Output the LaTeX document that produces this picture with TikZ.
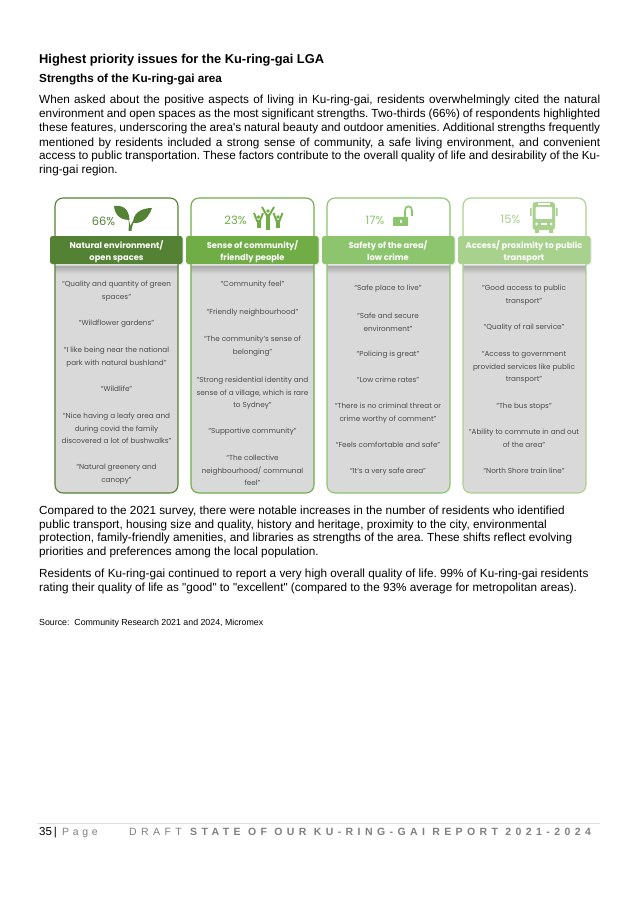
\documentclass[tikz,border=0pt]{standalone}
\usepackage{fontspec}
\setmainfont{Liberation Sans}
\newfontfamily\plainfont{Liberation Sans}
\newfontfamily\cardfont{Poppins}
\definecolor{cA}{HTML}{548235}
\definecolor{cB}{HTML}{70AD47}
\definecolor{cC}{HTML}{8CC56E}
\definecolor{cD}{HTML}{A9D18E}
\definecolor{bodygrey}{HTML}{D9D9D9}
\definecolor{quotegrey}{HTML}{4A4A4A}
\definecolor{footgrey}{HTML}{808080}
\newcounter{lno}
\tikzset{
  x=1pt,y=-1pt,
  heading/.style={anchor=base west,inner sep=0pt,font=\plainfont\fontsize{12.85}{15}\selectfont\bfseries},
  subhead/.style={anchor=base west,inner sep=0pt,font=\plainfont\fontsize{11.7}{14}\selectfont\bfseries},
  bodyline/.style={anchor=base west,inner sep=0pt,font=\plainfont\fontsize{11.75}{14}\selectfont},
  srcline/.style={anchor=base west,inner sep=0pt,font=\plainfont\fontsize{8.8}{10}\selectfont},
  quote/.style={anchor=base,inner sep=0pt,text=quotegrey,font=\cardfont\fontsize{7.25}{9}\selectfont},
  bandtext/.style={anchor=base,inner sep=0pt,text=white,font=\cardfont\fontsize{8.3}{10}\selectfont\bfseries},
  pct/.style={anchor=center,inner sep=0pt,font=\cardfont\fontsize{11.5}{13}\selectfont},
  cardline/.style={line width=1.1pt,rounded corners=8pt},
  foot/.style={anchor=base west,inner sep=0pt,text=black!50},
}
\newcommand{\jl}[2]{\stepcounter{lno}\node[bodyline] (b\thelno) at (39,#1) {\frenchspacing\makebox[561pt][s]{#2}};}
\newcommand{\bl}[2]{\stepcounter{lno}\node[bodyline] (b\thelno) at (39,#1) {\frenchspacing #2};}
\newcommand{\ql}[3]{\stepcounter{lno}\node[quote] (q\thelno) at (#1,#2+2.7) {#3};}
\newcommand{\cardbox}[3]{%
  \fill[white,rounded corners=8pt] (#1,198) rectangle (#1+123,240);
  \fill[bodygrey,rounded corners=8pt] (#1,250) rectangle (#1+123,493);
  \shade[top color=black!38,bottom color=bodygrey] (#1+.5,264) rectangle (#1+122.5,274);
  \fill[black!6,rounded corners=3pt] (#1-4,237) rectangle (#1+129,265.5);
  \draw[cardline,#2] (#1,240) -- (#1,198) -- (#1+123,198) -- (#1+123,240);
  \draw[cardline,#2] (#1,262) -- (#1,493) -- (#1+123,493) -- (#1+123,262);
  \fill[#2,rounded corners=2.5pt] (#1-5,236) rectangle (#1+127.5,264);
}
\begin{document}
\begin{tikzpicture}
\useasboundingbox[fill=white] (0,0) rectangle (637,901);
% headings
\node[heading] (title) at (39,64) {Highest priority issues for the Ku-ring-gai LGA};
\node[subhead] (sub) at (39,83) {Strengths of the Ku-ring-gai area};
% first paragraph
\jl{104}{When asked about the positive aspects of living in Ku-ring-gai, residents overwhelmingly cited the natural}
\jl{118}{environment and open spaces as the most significant strengths. Two-thirds (66\%) of respondents highlighted}
\jl{132}{these features, underscoring the area's natural beauty and outdoor amenities. Additional strengths frequently}
\jl{146.5}{mentioned by residents included a strong sense of community, a safe living environment, and convenient}
\jl{160}{access to public transportation. These factors contribute to the overall quality of life and desirability of the Ku-}
\bl{173.5}{ring-gai region.}
% cards
\cardbox{55}{cA}{}
\cardbox{191}{cB}{}
\cardbox{327}{cC}{}
\cardbox{463}{cD}{}
% percentages
\node[pct,text=cA] (p1) at (103.5,221) {66\%};
\node[pct,text=cB] (p2) at (235.5,220) {23\%};
\node[pct,text=cC] (p3) at (375,220) {17\%};
\node[pct,text=cD] (p4) at (510.5,219) {15\%};
% leaf icon
\fill[cA] (114,206) .. controls (122,205) and (129,208) .. (129.5,220) .. controls (124,220) and (115,218) .. (114,206) -- cycle;
\fill[cA] (152,208) .. controls (149,216) and (144,224) .. (133,223) .. controls (133,214) and (140,208) .. (152,208) -- cycle;
\fill[cA] (128.3,218) .. controls (129.5,222) and (130,224) .. (130.3,226) .. controls (131,224) and (132,222) .. (136,218) .. controls (133,223) and (131.5,227) .. (131.5,231) -- (128.5,231) .. controls (129,226) and (129,222) .. (128.3,218) -- cycle;
% people icon
\foreach \cx/\top/\bot/\hw in {258.5/213/228.5/4.5,268/207/230.5/6,278/213/228.5/4.5}{
  \fill[cB] (\cx,\top+4) circle (1.8);
  \fill[cB] (\cx-2,\top+7.5) rectangle (\cx+2,\bot);
  \draw[cB,line width=1.9pt] (\cx-1.2,\top+8.5) -- (\cx-\hw,\top) (\cx+1.2,\top+8.5) -- (\cx+\hw,\top);
}
% lock icon
\fill[cC,rounded corners=.6pt] (393,217) rectangle (408,226);
\fill[white] (400,220) rectangle (401.5,223.5);
\draw[cC,line width=1.7pt] (405,217) -- (405,210.5) .. controls (405,205) and (412,205) .. (412,210.5) -- (412,216);
% bus icon
\fill[cD,rounded corners=3pt] (532.5,202) rectangle (555,230);
\fill[white,rounded corners=1pt] (535.5,207) rectangle (552,219);
\fill[white] (538,203.5) rectangle (550,205);
\fill[white] (536.5,224) circle (1.5) (551,224) circle (1.5);
\fill[white] (541,223) rectangle (547,225);
\fill[cD] (535,229) rectangle (539,233) (549,229) rectangle (553,233);
\fill[cD] (530,208) rectangle (531.7,216) (555.8,208) rectangle (557.5,216);
% band labels
\node[bandtext] (h1a) at (116.5,248) {Natural environment/};
\node[bandtext] (h1b) at (116.5,260.5) {open spaces};
\node[bandtext] (h2a) at (252.5,248) {Sense of community/};
\node[bandtext] (h2b) at (252.5,260.5) {friendly people};
\node[bandtext] (h3a) at (388,248) {Safety of the area/};
\node[bandtext] (h3b) at (388,260.5) {low crime};
\node[bandtext] (h4a) at (524,248) {Access/ proximity to public};
\node[bandtext] (h4b) at (524,260.5) {transport};
% card 1
\ql{116.5}{284}{“Quality and quantity of green}
\ql{116.5}{297}{spaces”}
\ql{116.5}{323}{“Wildflower gardens”}
\ql{116.5}{350}{“I like being near the national}
\ql{116.5}{363}{park with natural bushland”}
\ql{116.5}{389}{“Wildlife”}
\ql{116.5}{416}{“Nice having a leafy area and}
\ql{116.5}{428.5}{during covid the family}
\ql{116.5}{441}{discovered a lot of bushwalks”}
\ql{116.5}{467}{“Natural greenery and}
\ql{116.5}{480}{canopy”}
% card 2
\ql{252.5}{284}{“Community feel”}
\ql{252.5}{312}{“Friendly neighbourhood”}
\ql{252.5}{339}{“The community’s sense of}
\ql{252.5}{352}{belonging”}
\ql{252.5}{380}{“Strong residential identity and}
\ql{252.5}{393}{sense of a village, which is rare}
\ql{252.5}{405}{to Sydney”}
\ql{252.5}{431}{“Supportive community”}
\ql{252.5}{458}{“The collective}
\ql{252.5}{470.5}{neighbourhood/ communal}
\ql{252.5}{483}{feel”}
% card 3
\ql{388}{288}{“Safe place to live”}
\ql{388}{316}{“Safe and secure}
\ql{388}{329}{environment”}
\ql{388}{354}{“Policing is great”}
\ql{388}{380}{“Low crime rates”}
\ql{388}{406}{“There is no criminal threat or}
\ql{388}{419}{crime worthy of comment”}
\ql{388}{445}{“Feels comfortable and safe”}
\ql{388}{471}{“It’s a very safe area”}
% card 4
\ql{524}{288}{“Good access to public}
\ql{524}{301}{transport”}
\ql{524}{327}{“Quality of rail service”}
\ql{524}{354}{“Access to government}
\ql{524}{366.5}{provided services like public}
\ql{524}{379}{transport”}
\ql{524}{406}{“The bus stops”}
\ql{524}{432}{“Ability to commute in and out}
\ql{524}{445}{of the area”}
\ql{524}{471}{“North Shore train line”}
% lower paragraphs
\bl{514}{Compared to the 2021 survey, there were notable increases in the number of residents who identified}
\bl{528}{public transport, housing size and quality, history and heritage, proximity to the city, environmental}
\bl{541.5}{protection, family-friendly amenities, and libraries as strengths of the area. These shifts reflect evolving}
\bl{555}{priorities and preferences among the local population.}
\bl{577}{Residents of Ku-ring-gai continued to report a very high overall quality of life. 99\% of Ku-ring-gai residents}
\bl{591}{rating their quality of life as "good" to "excellent" (compared to the 93\% average for metropolitan areas).}
\node[srcline] (src) at (39,625) {Source:\ \ Community Research 2021 and 2024, Micromex};
% footer
\coordinate (fl) at (37,823);
\coordinate (fr) at (600,823);
\draw[black!12,line width=.6pt] (fl) -- (fr);
\node[anchor=base west,inner sep=0pt,font=\plainfont\fontsize{11.5}{13}\selectfont] (pg) at (39,835) {35\,|};
\node[foot,font=\plainfont\fontsize{10.5}{13}\selectfont] (pgw) at (62,835) {\addfontfeature{LetterSpace=35}Page};
\node[foot,font=\plainfont\fontsize{10.5}{13}\selectfont] (dr) at (129,835) {\addfontfeature{LetterSpace=42}DRAFT};
\node[foot,font=\plainfont\fontsize{10.5}{13}\selectfont\bfseries] (rep) at (190,835) {\addfontfeature{LetterSpace=42}STATE OF OUR KU-RING-GAI REPORT 2021-2024};
\end{tikzpicture}
\end{document}
